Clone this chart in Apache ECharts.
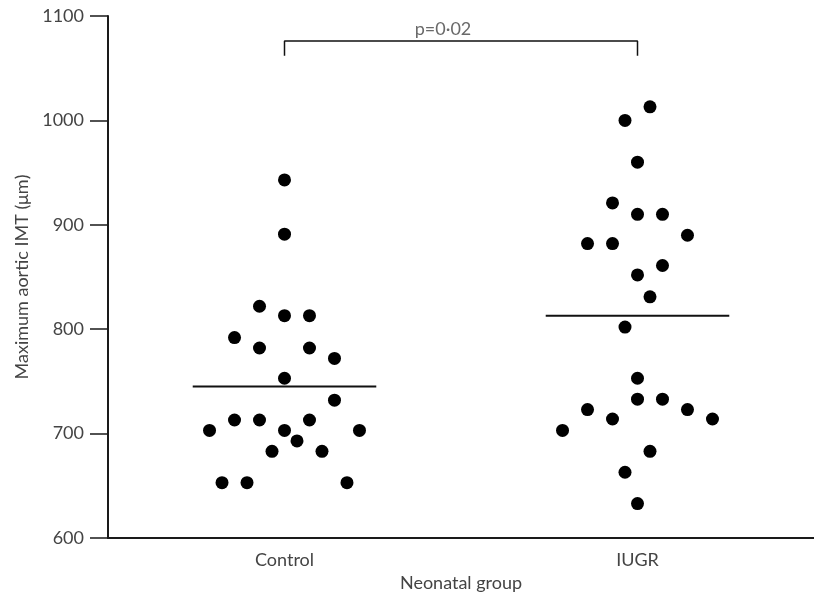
<!DOCTYPE html>
<html>
<head>
<meta charset="utf-8">
<script src="https://cdn.jsdelivr.net/npm/echarts@6/dist/echarts.min.js"></script>
<style>
	html, body { margin: 0; padding: 0; background: #fff; }
	#chart { width: 814px; height: 598px; }
</style>
</head>
<body>
<div id="chart"></div>
<script>
// groups on the x axis
const groups = ["Control", "IUGR"];

// maximum aortic IMT (um) per neonate
const controlValues = [943, 891, 822, 813, 813, 792, 782, 782, 772, 753, 732,
	713, 713, 713, 703, 703, 703, 693, 683, 683, 653, 653, 653];
// horizontal jitter slot of each dot (same order as values)
const controlSlots = [0, 0, -2, 0, 2, -4, -2, 2, 4, 0, 4,
	-4, -2, 2, -6, 0, 6, 1, -1, 3, -5, -3, 5];

const iugrValues = [1013, 1000, 960, 921, 910, 910, 890, 882, 882, 861, 852,
	831, 802, 753, 733, 733, 723, 723, 714, 714, 703, 683, 663, 633];
const iugrSlots = [1, -1, 0, -2, 0, 2, 4, -4, -2, 2, 0,
	1, -1, 0, 0, 2, -4, 4, -2, 6, -6, 1, -1, 0];

// group means
const means = [745, 813];

const yTicks = [600, 700, 800, 900, 1000, 1100];
const pText = "p=0\u00b702";

const slotWidth = 0.0354;
const meanHalf = 0.26;
const font = "Lato";
const textColor = "#444";

function dots(values, slots, center) {
	return values.map((v, i) => [center + slots[i] * slotWidth, v]);
}

let chart = echarts.init(document.getElementById("chart"));
chart.setOption({
	animation: false,
	grid: { left: 108, right: 0, top: 16, bottom: 60 },
	xAxis: [
		{
			type: "category",
			data: groups,
			boundaryGap: true,
			name: "Neonatal group",
			nameLocation: "middle",
			nameGap: 34,
			nameTextStyle: { fontFamily: font, fontSize: 18, color: textColor },
			axisLine: { lineStyle: { color: "#1a1a1a", width: 2 } },
			axisTick: { show: false },
			axisLabel: { fontFamily: font, fontSize: 18, color: textColor, margin: 13 },
			splitLine: { show: false },
		},
		{
			type: "value",
			min: 0,
			max: 2,
			show: false,
		},
	],
	yAxis: {
		type: "value",
		min: yTicks[0],
		max: yTicks[yTicks.length - 1],
		interval: 100,
		name: "Maximum aortic IMT (\u03bcm)",
		nameLocation: "middle",
		nameGap: 77,
		nameTextStyle: { fontFamily: font, fontSize: 18, color: textColor },
		axisLine: { show: true, lineStyle: { color: "#1a1a1a", width: 2 } },
		axisTick: { show: true, length: 18, lineStyle: { color: "#1a1a1a", width: 1.5 } },
		axisLabel: {
			fontFamily: font,
			fontSize: 18,
			color: textColor,
			margin: 24,
			formatter: (v) => String(v),
		},
		splitLine: { show: false },
	},
	series: [
		{
			type: "scatter",
			xAxisIndex: 1,
			data: dots(controlValues, controlSlots, 0.5),
			symbolSize: 13,
			itemStyle: { color: "#000", opacity: 1 },
		},
		{
			type: "scatter",
			xAxisIndex: 1,
			data: dots(iugrValues, iugrSlots, 1.5),
			symbolSize: 13,
			itemStyle: { color: "#000", opacity: 1 },
		},
		{
			type: "line",
			xAxisIndex: 1,
			data: [[0.5 - meanHalf, means[0]], [0.5 + meanHalf, means[0]]],
			symbol: "none",
			lineStyle: { color: "#111", width: 2 },
		},
		{
			type: "line",
			xAxisIndex: 1,
			data: [[1.5 - meanHalf, means[1]], [1.5 + meanHalf, means[1]]],
			symbol: "none",
			lineStyle: { color: "#111", width: 2 },
		},
		{
			// significance bracket
			type: "line",
			xAxisIndex: 1,
			data: [[0.5, 1062], [0.5, 1076], [1.5, 1076], [1.5, 1062]],
			symbol: "none",
			lineStyle: { color: "#111", width: 1.5 },
		},
		{
			type: "scatter",
			xAxisIndex: 1,
			data: [[1, 1076]],
			symbolSize: 0,
			label: {
				show: true,
				position: "top",
				distance: 3,
				offset: [-18, 0],
				formatter: pText,
				fontFamily: font,
				fontSize: 18,
				color: textColor,
			},
		},
	],
});
</script>
</body>
</html>
